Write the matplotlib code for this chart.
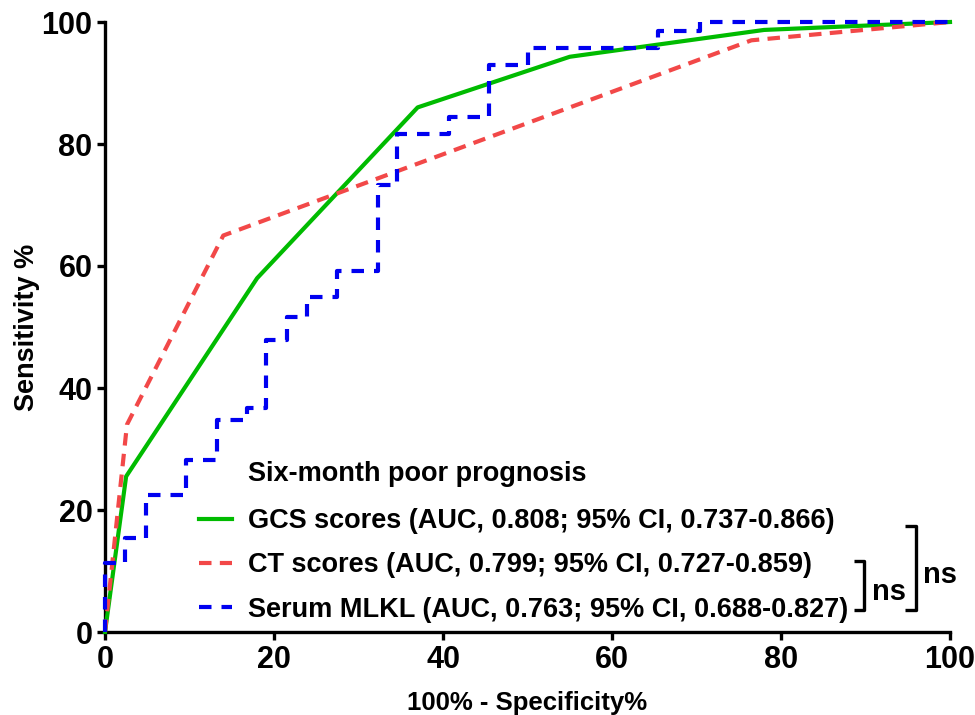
import matplotlib
matplotlib.use("Agg")
import matplotlib.pyplot as plt

plt.rcParams['font.family'] = ['Liberation Sans', 'DejaVu Sans']
plt.rcParams['font.weight'] = 'bold'

# ROC points (100% - specificity, sensitivity)
gcs_fpr = [0, 2.5, 18, 37, 55, 78, 100]
gcs_tpr = [0, 25.5, 58, 86, 94.3, 98.7, 100]

ct_fpr = [0, 2.6, 14, 76.5, 100]
ct_tpr = [0, 34, 65, 97, 100]

mlkl_fpr = [0, 0, 2.4, 2.4, 4.9, 4.9, 9.6, 9.6, 13.2, 13.2, 16.8, 16.8, 19.1, 19.1,
            21.5, 21.5, 23.9, 23.9, 27.5, 27.5, 32.3, 32.3, 34.6, 34.6, 40.7, 40.7,
            45.4, 45.4, 50, 50, 65.5, 65.5, 70.4, 70.4, 100]
mlkl_tpr = [0, 11.3, 11.3, 15.4, 15.4, 22.5, 22.5, 28.2, 28.2, 34.8, 34.8, 36.7, 36.7, 47.9,
            47.9, 51.7, 51.7, 54.9, 54.9, 59.1, 59.1, 73.2, 73.2, 81.6, 81.6, 84.5,
            84.5, 93, 93, 95.7, 95.7, 98.6, 98.6, 100, 100]

labels = ["GCS scores (AUC, 0.808; 95% CI, 0.737-0.866)",
          "CT scores (AUC, 0.799; 95% CI, 0.727-0.859)",
          "Serum MLKL (AUC, 0.763; 95% CI, 0.688-0.827)"]
ticks = [0, 20, 40, 60, 80, 100]

fig = plt.figure(figsize=(9.75, 7.15), dpi=100)
ax = fig.add_axes([105 / 975, 83 / 715, 845 / 975, 610 / 715])

l1, = ax.plot(gcs_fpr, gcs_tpr, color='#00bb00', lw=3, clip_on=False, zorder=3)
l2, = ax.plot(ct_fpr, ct_tpr, color='#f24848', lw=3, dashes=(3, 2), clip_on=False, zorder=4)
l3, = ax.plot(mlkl_fpr, mlkl_tpr, color='#0000f0', lw=3, dashes=(3, 2.4), clip_on=False, zorder=5)

ax.set_xlim(0, 100)
ax.set_ylim(0, 100)
ax.set_xticks(ticks)
ax.set_yticks(ticks)
for s in ['top', 'right']:
    ax.spines[s].set_visible(False)
for s in ['left', 'bottom']:
    ax.spines[s].set_linewidth(2.4)
ax.tick_params(width=2.4, length=6, labelsize=22, pad=3)
for t in ax.get_xticklabels() + ax.get_yticklabels():
    t.set_fontweight('bold')

ax.set_xlabel('100% - Specificity%', fontsize=18.5, fontweight='bold', labelpad=12)
ax.set_ylabel('Sensitivity %', fontsize=19.5, fontweight='bold', labelpad=1)

fig.text(248 / 975, 1 - 474 / 715, 'Six-month poor prognosis', fontsize=19.5,
         fontweight='bold', va='center', ha='left')
ax.legend([l1, l2, l3], labels, loc='upper left',
          bbox_to_anchor=(199 / 975, 1 - 508 / 715), bbox_transform=fig.transFigure,
          frameon=False, handlelength=1.2, handletextpad=0.6,
          labelspacing=0.68, borderpad=0, borderaxespad=0,
          prop={'weight': 'bold', 'size': 19.5})

# significance brackets
bk = dict(color='black', lw=2.4, clip_on=False, solid_capstyle='butt')
ax.plot([88.6, 89.8, 89.8, 88.6], [11.6, 11.6, 3.6, 3.6], **bk)
ax.plot([94.7, 96.0, 96.0, 94.7], [17.4, 17.4, 3.6, 3.6], **bk)
ax.text(92.8, 6.6, 'ns', fontsize=21, fontweight='bold', ha='center', va='center')
ax.text(98.8, 9.3, 'ns', fontsize=21, fontweight='bold', ha='center', va='center')

fig.savefig('out.png', dpi=100)
